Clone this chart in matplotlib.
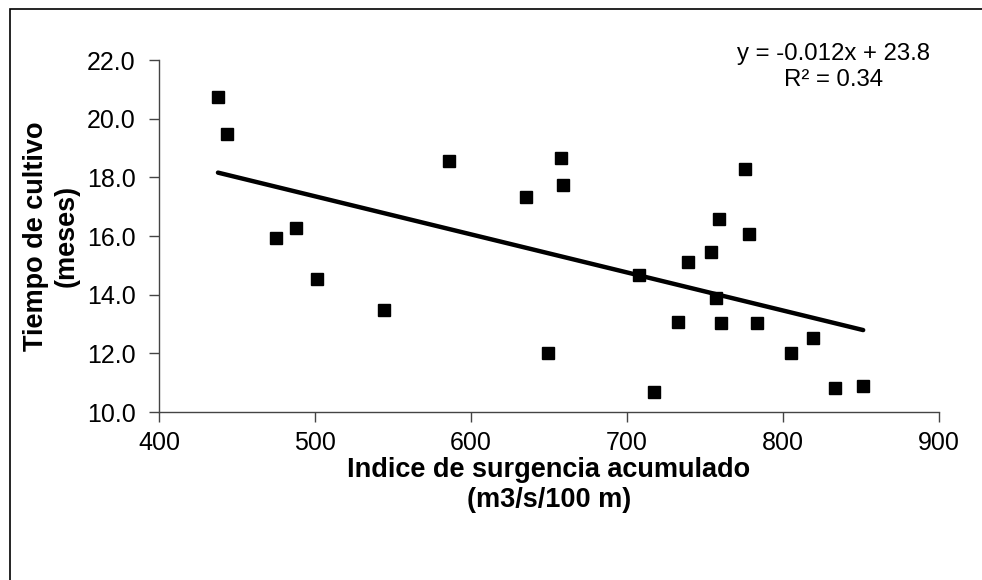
import numpy as np
import matplotlib
matplotlib.use('Agg')
import matplotlib.pyplot as plt
from matplotlib.patches import Rectangle

plt.rcParams['font.family'] = ['Liberation Sans', 'DejaVu Sans']

# data
surgencia = [437.8, 443.6, 475.0, 487.8, 501.0, 544.2, 585.9, 635.3, 649.4, 658.0,
             659.0, 707.9, 717.0, 732.4, 739.3, 754.0, 757.3, 759.2, 760.3, 775.6,
             778.4, 783.3, 804.9, 819.4, 833.3, 851.4]
tiempo = [20.74, 19.48, 15.93, 16.27, 14.53, 13.48, 18.56, 17.34, 12.01, 18.66,
          17.73, 14.66, 10.69, 13.08, 15.10, 15.46, 13.88, 16.58, 13.05, 18.27,
          16.06, 13.05, 12.00, 12.52, 10.81, 10.89]
x_ticks = [400, 500, 600, 700, 800, 900]
y_ticks = [10, 12, 14, 16, 18, 20, 22]

fig = plt.figure(figsize=(9.82, 5.8), dpi=100)
ax = fig.add_axes([159/982, 168/580, 780/982, 352/580])

# trend line (linear fit)
m, b = np.polyfit(surgencia, tiempo, 1)
xl = np.array([min(surgencia), max(surgencia)])
ax.plot(xl, m*xl + b, color='black', lw=3.2, solid_capstyle='round', zorder=2)

ax.plot(surgencia, tiempo, 's', color='black', markersize=8.2, zorder=3)

ax.set_xlim(400, 900)
ax.set_ylim(10, 22)
ax.set_xticks(x_ticks)
ax.set_yticks(y_ticks)
ax.set_yticklabels(['%.1f' % v for v in y_ticks])
ax.tick_params(axis='both', direction='out', length=7, width=1, color='#444444',
               labelsize=18)
ax.tick_params(axis='x', pad=7)
ax.tick_params(axis='y', pad=10)
for s in ['top', 'right']:
    ax.spines[s].set_visible(False)
for s in ['left', 'bottom']:
    ax.spines[s].set_color('#444444')
    ax.spines[s].set_linewidth(1)

ax.set_xlabel('Indice de surgencia acumulado\n(m3/s/100 m)', fontsize=19.5,
              fontweight='bold', labelpad=1, linespacing=1.2)
ax.set_ylabel('Tiempo de cultivo\n(meses)', fontsize=19.5, fontweight='bold',
              labelpad=5, linespacing=1.25)

ax.text(0.865, 0.98, 'y = -0.012x + 23.8\nR² = 0.34', transform=ax.transAxes,
        ha='center', va='center', fontsize=17.3, linespacing=1.25)

# outer chart border
fig.add_artist(Rectangle((9.5/982, -0.1), 1.2, (580-9)/580 + 0.1,
                         transform=fig.transFigure, fill=False,
                         edgecolor='black', lw=1.2, clip_on=False))

fig.savefig('out.png', dpi=100, facecolor='white')
